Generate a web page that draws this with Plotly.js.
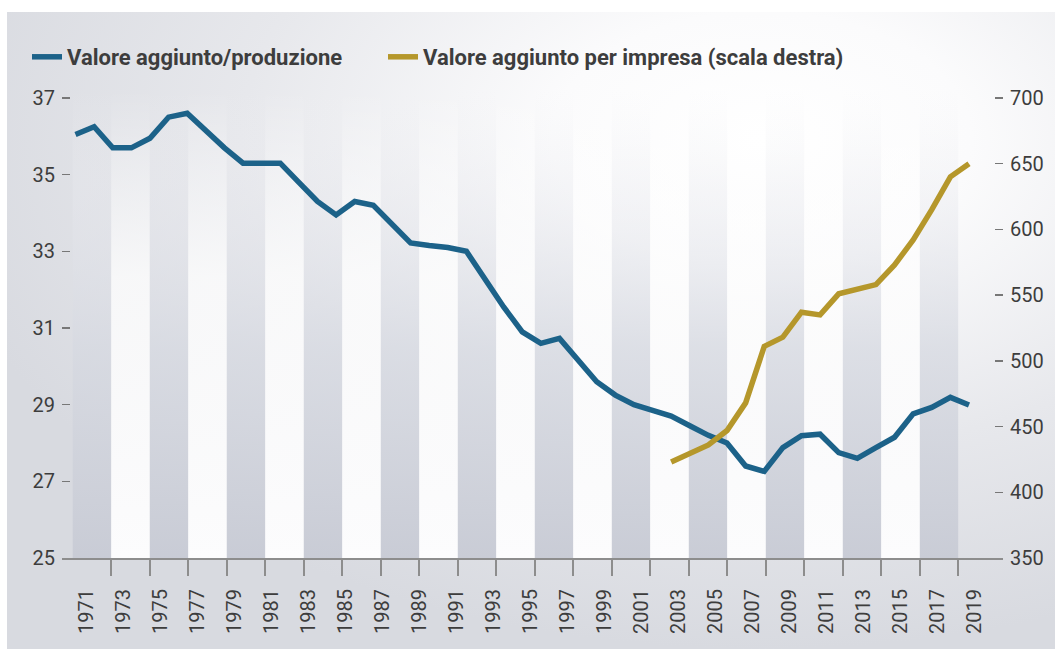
<!DOCTYPE html>
<html>
<head>
<meta charset="utf-8">
<script src="https://cdn.plot.ly/plotly-3.0.1.min.js"></script>
<style>
html,body{margin:0;padding:0;background:#ffffff;}
#chart{width:1055px;height:649px;}
</style>
</head>
<body>
<div id="chart"></div>
<script>
// ---- data ----
const yearsBlue = [1971,1972,1973,1974,1975,1976,1977,1978,1979,1980,1981,1982,1983,1984,1985,1986,1987,1988,1989,1990,1991,1992,1993,1994,1995,1996,1997,1998,1999,2000,2001,2002,2003,2004,2005,2006,2007,2008,2009,2010,2011,2012,2013,2014,2015,2016,2017,2018,2019];
const valoreAggiuntoProduzione = [36.05,36.25,35.7,35.7,35.95,36.5,36.6,36.15,35.7,35.3,35.3,35.3,34.8,34.3,33.95,34.3,34.2,33.7,33.22,33.15,33.1,33.0,32.25,31.55,30.9,30.6,30.73,30.15,29.6,29.25,29.0,28.85,28.7,28.45,28.2,28.0,27.4,27.26,27.88,28.19,28.23,27.75,27.6,27.88,28.15,28.76,28.93,29.19,28.99];
const yearsGold = [2003,2004,2005,2006,2007,2008,2009,2010,2011,2012,2013,2014,2015,2016,2017,2018,2019];
const valoreAggiuntoPerImpresa = [423,430,436,447,468,511,518,537,535,551,555,558,573,592,615,640,650];
const tickYears = [1971,1973,1975,1977,1979,1981,1983,1985,1987,1989,1991,1993,1995,1997,1999,2001,2003,2005,2007,2009,2011,2013,2015,2017,2019];
const leftTicks = [25,27,29,31,33,35,37];
const rightTicks = [350,400,450,500,550,600,650,700];
const seriesNames = ["Valore aggiunto/produzione", "Valore aggiunto per impresa (scala destra)"];

// ---- decorative alternating bands (2-year slots) ----
const nSlots = 23;
const bandTop = 37.21, bandBottom = 25;
function bandPoly(parity){
  const xs=[], ys=[];
  for(let k=parity;k<nSlots;k+=2){
    xs.push(k,k+1,k+1,k,k,null);
    ys.push(bandBottom,bandBottom,bandTop,bandTop,bandBottom,null);
  }
  return {xs,ys};
}
const greyB = bandPoly(0), whiteB = bandPoly(1);

const txt = '#3d3d3d';
const tickFont = {family:'Roboto, "Liberation Sans", sans-serif', size:20, color:txt};
const legFont = {family:'Roboto, "Liberation Sans", sans-serif', size:22, color:txt, weight:700};

const traces = [
  {x:greyB.xs, y:greyB.ys, xaxis:'x', yaxis:'y', mode:'lines', line:{width:0,color:'rgba(0,0,0,0)'},
   fill:'toself', fillgradient:{type:'vertical', start:25, stop:37.21,
     colorscale:[[0,'rgba(200,203,213,0.95)'],[0.45,'rgba(214,217,225,0.75)'],[0.8,'rgba(232,233,238,0.35)'],[1,'rgba(240,241,244,0)']]},
   hoverinfo:'skip', showlegend:false},
  {x:whiteB.xs, y:whiteB.ys, xaxis:'x', yaxis:'y', mode:'lines', line:{width:0,color:'rgba(0,0,0,0)'},
   fill:'toself', fillgradient:{type:'vertical', start:25, stop:37.21,
     colorscale:[[0,'rgba(252,252,253,1)'],[0.6,'rgba(253,253,253,0.8)'],[1,'rgba(255,255,255,0)']]},
   hoverinfo:'skip', showlegend:false},
  {x:yearsBlue, y:valoreAggiuntoProduzione, xaxis:'x2', yaxis:'y', mode:'lines', name:seriesNames[0],
   line:{color:'#1c6289', width:5.5, shape:'linear'}, legend:'legend'},
  {x:yearsGold, y:valoreAggiuntoPerImpresa, xaxis:'x2', yaxis:'y2', mode:'lines', name:seriesNames[1],
   line:{color:'#b5972b', width:5.5}, legend:'legend2'},
  {x:[tickYears[0]], y:[null], xaxis:'x3', yaxis:'y', mode:'lines', showlegend:false, hoverinfo:'skip'}
];

// background gradient as an svg image
const bgSvg = '<svg xmlns="http://www.w3.org/2000/svg" width="1048" height="637" viewBox="0 0 1048 637" preserveAspectRatio="none">'+
 '<defs><radialGradient id="g" cx="0.72" cy="0.2" r="0.8" fx="0.72" fy="0.2">'+
 '<stop offset="0" stop-color="#ffffff"/><stop offset="0.25" stop-color="#fbfbfc"/><stop offset="0.62" stop-color="#e7e8ec"/><stop offset="1" stop-color="#d8dae0"/>'+
 '</radialGradient></defs><rect width="1048" height="637" fill="url(#g)"/></svg>';
const bgUri = 'data:image/svg+xml;base64,' + btoa(bgSvg);

const L=62, R=1003, T=90, B=558, W=1055, H=649;
const pw=R-L, ph=B-T;

const layout = {
  width:W, height:H,
  margin:{l:L, r:W-R, t:T, b:H-B, pad:0},
  paper_bgcolor:'#ffffff', plot_bgcolor:'rgba(0,0,0,0)',
  showlegend:true,
  legend:{orientation:'h', x:(27-L)/pw, xanchor:'left', y:(B-57)/ph, yanchor:'middle',
    font:legFont, bgcolor:'rgba(0,0,0,0)'},
  legend2:{orientation:'h', x:(383-L)/pw, xanchor:'left', y:(B-57)/ph, yanchor:'middle',
    font:legFont, bgcolor:'rgba(0,0,0,0)'},
  images:[{source:bgUri, xref:'paper', yref:'paper', x:(7-L)/pw, y:(B-12)/ph, sizex:(W-7)/pw, sizey:(H-12)/ph,
    xanchor:'left', yanchor:'top', sizing:'stretch', layer:'below'}],
  xaxis:{ // band / tick-mark axis
    range:[(L-72.7)/38.5, (R-72.7)/38.5], showgrid:false, zeroline:false,
    showline:true, linecolor:'#8d8d8d', linewidth:2,
    ticks:'outside', ticklen:16, tickwidth:2, tickcolor:'#8d8d8d',
    tickmode:'array', tickvals:Array.from({length:23},(_,i)=>i+1), showticklabels:false, fixedrange:true},
  xaxis2:{ // data axis
    overlaying:'x', anchor:'y', range:[1971-(75.5-L)/18.615, 2019+(R-969)/18.615],
    visible:false, showgrid:false, zeroline:false},
  xaxis3:{ // label axis
    overlaying:'x', anchor:'y', side:'bottom', range:[1971-(86.7-L)/18.5, 1971+(R-86.7)/18.5],
    showgrid:false, zeroline:false, showline:false, ticks:'',
    tickmode:'array', tickvals:tickYears, ticktext:tickYears.map(String),
    tickangle:-90, tickfont:tickFont, ticklabelstandoff:26},
  yaxis:{range:[25, 37+(98-T)/38.25], showgrid:false, zeroline:false, showline:false,
    tickmode:'array', tickvals:leftTicks, ticks:'inside', ticklen:8, tickwidth:1.5, tickcolor:'#777',
    tickfont:tickFont, ticklabelstandoff:6},
  yaxis2:{range:[350, 700+(98-T)*50/65.71], overlaying:'y', side:'right', anchor:'x',
    showgrid:false, zeroline:false, showline:false,
    tickmode:'array', tickvals:rightTicks, ticks:'inside', ticklen:8, tickwidth:1.5, tickcolor:'#777',
    tickfont:tickFont, ticklabelstandoff:6}
};

Plotly.newPlot('chart', traces, layout, {displayModeBar:false, staticPlot:true});
</script>
</body>
</html>
